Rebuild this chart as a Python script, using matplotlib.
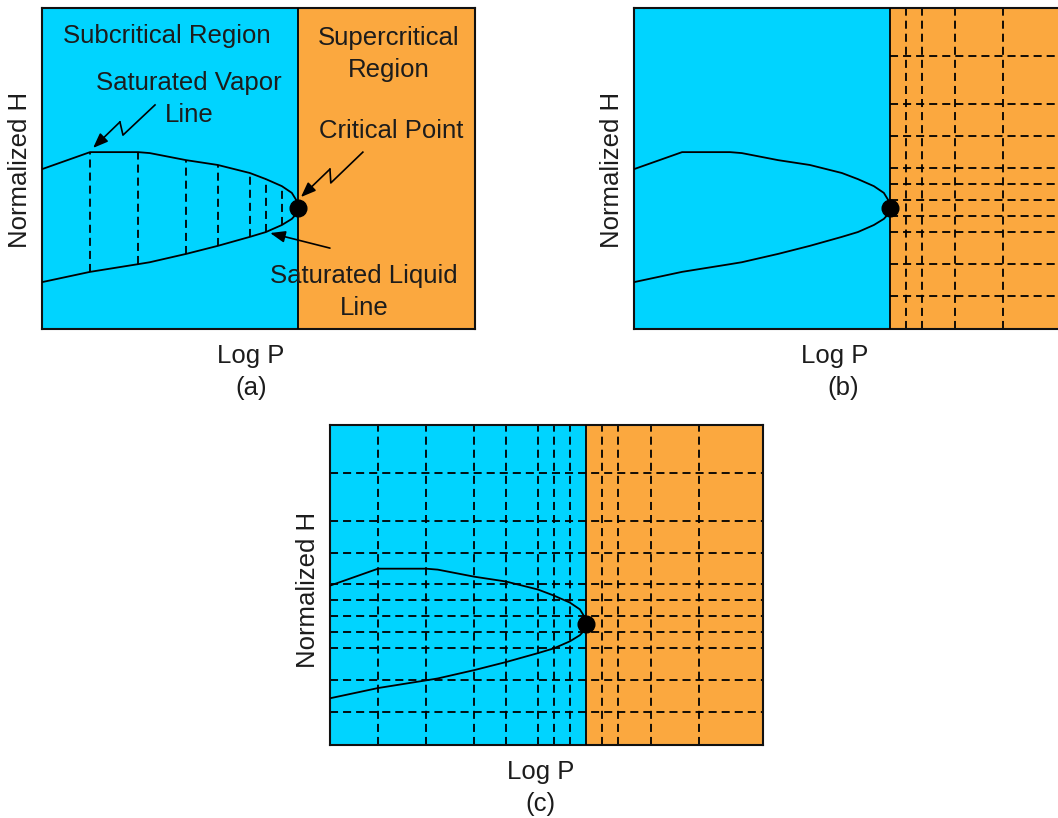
import numpy as np
import matplotlib
matplotlib.use("Agg")
import matplotlib.pyplot as plt

plt.rcParams['font.family'] = ['Liberation Sans', 'DejaVu Sans']
plt.rcParams['lines.scale_dashes'] = False

# normalized Log P / normalized H
crit_p = 0.591
crit_h = 0.377

curve_p = [0.0, 0.111, 0.222, 0.249, 0.333, 0.406, 0.480, 0.517, 0.554, 0.577, 0.587, 0.591]
vapor_h = [0.498, 0.551, 0.551, 0.548, 0.526, 0.511, 0.486, 0.467, 0.445, 0.424, 0.402, 0.377]
liquid_h = [0.146, 0.178, 0.202, 0.208, 0.234, 0.259, 0.287, 0.302, 0.324, 0.343, 0.358, 0.377]

tie_idx = [1, 2, 4, 5, 6, 7, 8]          # tie lines in (a) sit on these curve points
sub_grid_p = [0.111, 0.222, 0.333, 0.406, 0.480, 0.517, 0.554]
super_grid_p = [0.628, 0.665, 0.741, 0.852]
grid_h = [0.850, 0.701, 0.601, 0.502, 0.452, 0.402, 0.352, 0.302, 0.202, 0.103]

CYAN = '#00d4ff'
ORANGE = '#fba83f'
TXT = '#1c1c1c'
FS = 18.5
LS = 1.4
W, H = 1058, 818

fig = plt.figure(figsize=(W / 100, H / 100), dpi=100)


def make_ax(left, top, w=433, h=321):
    return fig.add_axes([left / W, 1 - (top + h) / H, w / W, h / H])


def base(ax, tag, xlab, xtag, ylab_y):
    ax.axvspan(0, crit_p, color=CYAN, lw=0, zorder=0)
    ax.axvspan(crit_p, 1, color=ORANGE, lw=0, zorder=0)
    ax.axvline(crit_p, color='black', lw=1.3, zorder=3)
    ax.plot(curve_p, vapor_h, color='black', lw=1.3, zorder=3)
    ax.plot(curve_p, liquid_h, color='black', lw=1.3, zorder=3)
    ax.plot([crit_p], [crit_h], 'o', color='black', ms=12, zorder=5)
    ax.set_xlim(0, 1)
    ax.set_ylim(0, 1)
    ax.set_xticks([])
    ax.set_yticks([])
    for s in ax.spines.values():
        s.set_linewidth(1.5)
        s.set_color('#111111')
    ax.text(xlab, -0.084, 'Log P', ha='center', va='center', fontsize=FS,
            color=TXT, transform=ax.transAxes)
    ax.text(xtag, -0.184, tag, ha='center', va='center', fontsize=FS,
            color=TXT, transform=ax.transAxes)
    ax.text(-0.051, ylab_y, 'Normalized H', ha='center', va='center',
            rotation=90, fontsize=FS, color=TXT, transform=ax.transAxes)


dash = dict(color='black', lw=1.3, linestyle=(0, (5.8, 3.6)), zorder=2)


def bolt(ax, pts):
    xs = [p[0] for p in pts[:-1]]
    ys = [p[1] for p in pts[:-1]]
    ax.plot(xs, ys, color='black', lw=1.2, zorder=4)
    ax.annotate('', xy=pts[-1], xytext=pts[-2],
                arrowprops=dict(arrowstyle='-|>,head_length=0.9,head_width=0.35',
                                color='black', lw=1.2, shrinkA=0, shrinkB=0),
                zorder=4)


# (a)
ax_a = make_ax(42, 8)
base(ax_a, '(a)', 0.483, 0.483, 0.495)
for i in tie_idx:
    ax_a.plot([curve_p[i], curve_p[i]], [liquid_h[i], vapor_h[i]], **dash)
ax_a.text(0.289, 0.913, 'Subcritical Region', ha='center', va='center',
          fontsize=FS, color=TXT)
ax_a.text(0.801, 0.856, 'Supercritical\nRegion', ha='center', va='center',
          fontsize=FS, color=TXT, linespacing=LS)
ax_a.text(0.339, 0.717, 'Saturated Vapor\nLine', ha='center', va='center',
          fontsize=FS, color=TXT, linespacing=LS)
ax_a.text(0.806, 0.617, 'Critical Point', ha='center', va='center',
          fontsize=FS, color=TXT)
ax_a.text(0.744, 0.116, 'Saturated Liquid\nLine', ha='center', va='center',
          fontsize=FS, color=TXT, linespacing=LS, zorder=6)
bolt(ax_a, [(0.261, 0.698), (0.187, 0.604), (0.180, 0.645), (0.118, 0.564)])
bolt(ax_a, [(0.741, 0.551), (0.667, 0.455), (0.665, 0.498), (0.598, 0.411)])
bolt(ax_a, [(0.665, 0.252), (0.665, 0.252), (0.527, 0.299)])

# (b)
ax_b = make_ax(634, 8)
base(ax_b, '(b)', 0.464, 0.483, 0.495)
for p in super_grid_p:
    ax_b.axvline(p, **dash)
for h in grid_h:
    ax_b.plot([crit_p, 1], [h, h], **dash)

# (c)
ax_c = make_ax(330, 425, h=320)
base(ax_c, '(c)', 0.487, 0.487, 0.484)
for p in sub_grid_p + super_grid_p:
    ax_c.axvline(p, **dash)
for h in grid_h:
    ax_c.axhline(h, **dash)

fig.savefig('out.png', dpi=100)
